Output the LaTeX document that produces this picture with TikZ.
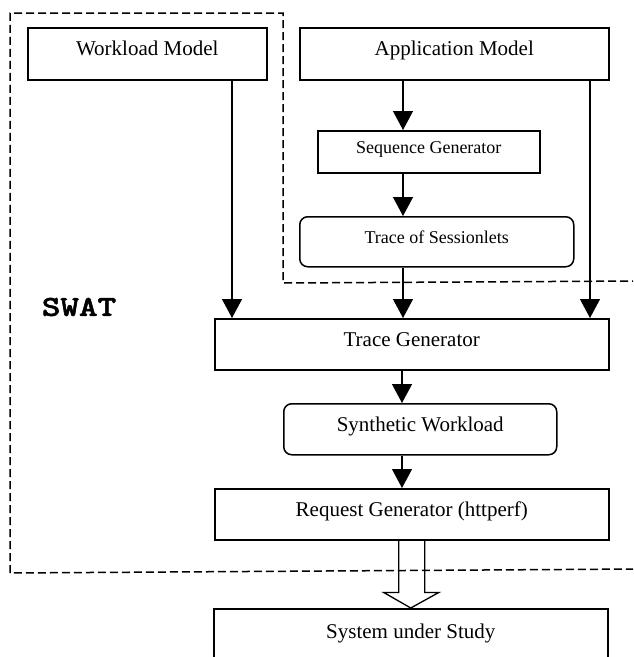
\documentclass[tikz,border=0pt]{standalone}
\usepackage{fontspec}
\setmainfont{Liberation Serif}
\newfontfamily\swatfont{lmmonolt10-bold.otf}[FakeBold=1.6]
\usetikzlibrary{arrows.meta,calc}

\tikzset{
  blk/.style={draw, line width=1.5pt, inner sep=0pt, anchor=north west,
    font=\fontsize{21}{25}\selectfont, text height=15pt, text depth=11pt},
  smallblk/.style={blk, font=\fontsize{18}{22}\selectfont, text height=13pt, text depth=9pt},
  rnd/.style={rounded corners=8pt},
  flow/.style={line width=1.3pt, -{Triangle[length=19pt,width=20pt]}},
  boundary/.style={line width=1.5pt, dash pattern=on 8pt off 4pt},
}

\begin{document}
\begin{tikzpicture}[x=1pt, y=-1pt]
\useasboundingbox (0,0) rectangle (633,657);
\clip (0,0) rectangle (633,657);

% tool boundary (dashed)
\draw[boundary] (640,281) -- (283,283) -- (283,13) -- (10,13) -- (10,573) -- (640,569);

% blocks
\node[blk, minimum width=239pt, minimum height=52pt] (wm) at (27,27) {Workload Model};
\node[blk, minimum width=309pt, minimum height=52pt] (am) at (299,27) {Application Model};
\node[smallblk, minimum width=222pt, minimum height=42pt] (sg) at (317,130) {Sequence Generator};
\node[smallblk, rnd, minimum width=274pt, minimum height=50pt] (ts) at (299,216) {Trace of Sessionlets};
\node[blk, minimum width=394pt, minimum height=51pt] (tg) at (214,318) {Trace Generator};
\node[blk, rnd, minimum width=273pt, minimum height=51pt] (sw) at (283,403) {Synthetic Workload};
\node[blk, minimum width=394pt, minimum height=51pt] (rg) at (214,488) {Request Generator (httperf)};
\node[blk, minimum width=394pt, minimum height=56pt] (su) at (213,608) {System under Study};

\node[font=\swatfont\fontsize{29}{32}\selectfont, xscale=1.22, anchor=center] (swat) at (79,307) {SWAT};

% x positions of the vertical connectors
\coordinate (xw) at (232,0);
\coordinate (xa) at (403,0);
\coordinate (xr) at (590,0);
\coordinate (xm) at (402,0);

% connectors
\draw[flow] (wm.south -| xw) -- (tg.north -| xw);
\draw[flow] (am.south -| xa) -- (sg.north -| xa);
\draw[flow] (sg.south -| xa) -- (ts.north -| xa);
\draw[flow] (ts.south -| xa) -- (tg.north -| xa);
\draw[flow] (am.south -| xr) -- (tg.north -| xr);
\draw[flow] (tg.south -| xm) -- (sw.north -| xm);
\draw[flow] (sw.south -| xm) -- (rg.north -| xm);

% hollow block arrow to the system under study
\draw[line width=1.3pt, line join=miter]
  ($(rg.south)+(-13,0)$) -- ($(rg.south)+(-13,52)$) -- ($(rg.south)+(-28,52)$)
  -- (su.north) -- ($(rg.south)+(27,52)$) -- ($(rg.south)+(13,52)$) -- ($(rg.south)+(13,0)$);
\end{tikzpicture}
\end{document}
